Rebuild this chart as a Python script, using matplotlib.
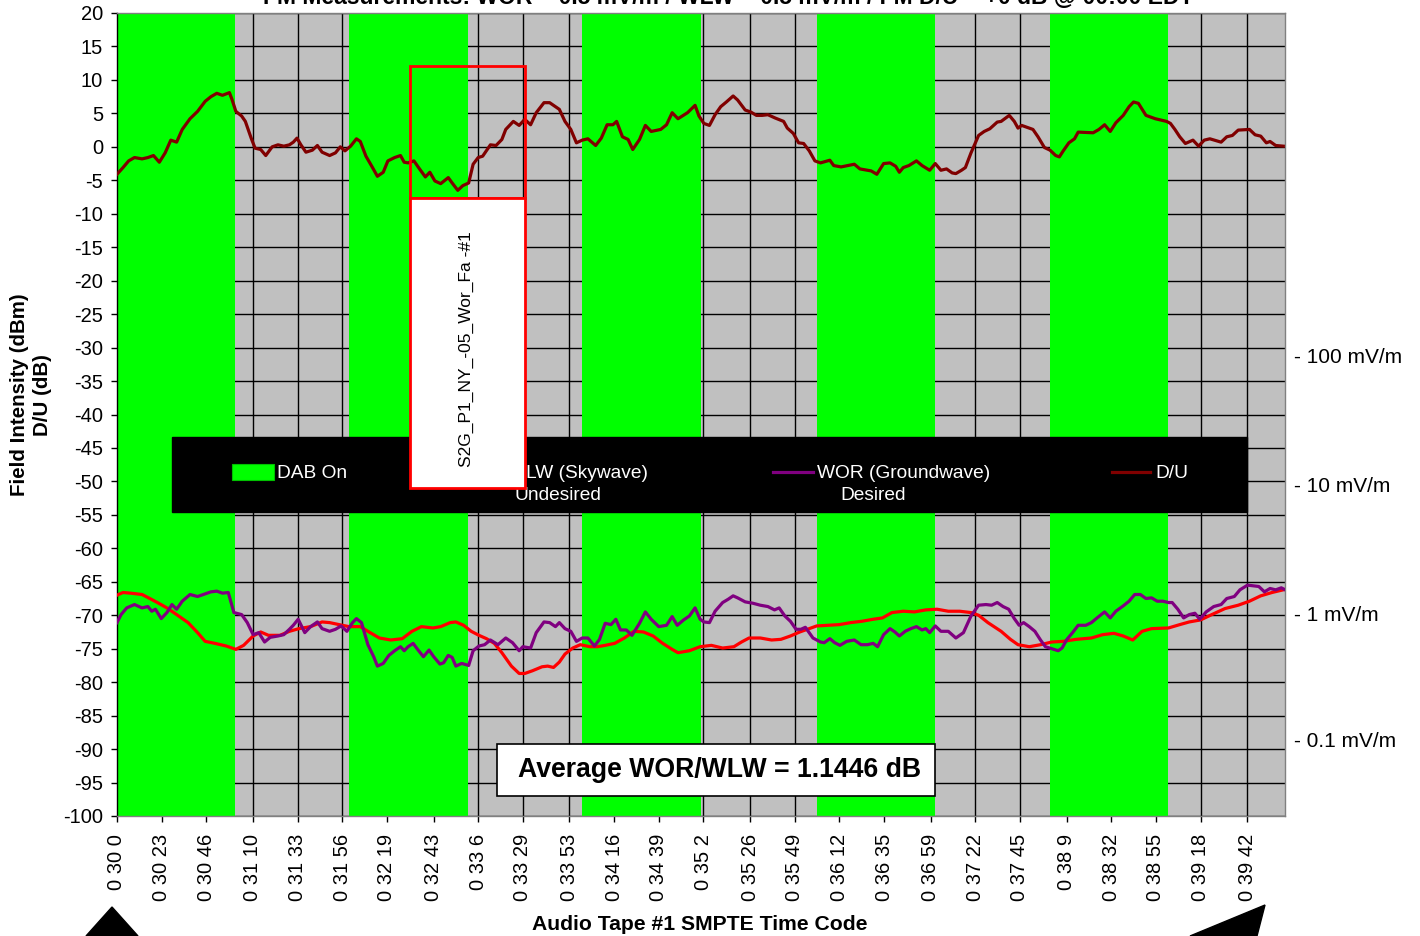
import matplotlib
matplotlib.use("Agg")
import matplotlib.pyplot as plt
from matplotlib.patches import Rectangle, Polygon
from matplotlib.lines import Line2D
import matplotlib.transforms as mtransforms

plt.rcParams['font.family'] = ['Liberation Sans', 'DejaVu Sans']
plt.rcParams['axes.unicode_minus'] = False

# ---------------- data ----------------
title = "FM Measurements: WOR = 0.5 mV/m / WLW = 0.5 mV/m / FM D/U = +0 dB @ 00:00 EDT"

tick_labels = ["0 30 0", "0 30 23", "0 30 46", "0 31 10", "0 31 33", "0 31 56", "0 32 19",
               "0 32 43", "0 33 6", "0 33 29", "0 33 53", "0 34 16", "0 34 39", "0 35 2",
               "0 35 26", "0 35 49", "0 36 12", "0 36 35", "0 36 59", "0 37 22", "0 37 45",
               "0 38 9", "0 38 32", "0 38 55", "0 39 18", "0 39 42"]
tick_seconds = [0, 23, 46, 70, 93, 116, 139, 163, 186, 209, 233, 256, 279, 302, 326,
                349, 372, 395, 419, 442, 465, 489, 512, 535, 558, 582]

dab_start = [0.0, 119.5, 239.5, 360.5, 480.5]
dab_end = [61.0, 181.0, 301.0, 421.0, 541.5]

du_time = [0, 3.1, 6.0, 9.0, 12.9, 15.9, 18.8, 21.8, 24.8, 27.7,
           30.7, 33.6, 37.6, 41.5, 45.4, 48.4, 51.4, 54.3, 57.9, 59.2,
           61.2, 64.2, 66.1, 69.1, 71.1, 74.0, 76.6, 79.9, 82.9, 85.9,
           88.8, 90.8, 92.7, 94.7, 97.3, 100.6, 103.2, 105.6, 109.5, 112.5,
           115.0, 117.4, 120.3, 123.3, 125.3, 128.2, 131.2, 134.1, 137.1, 139.5,
           143.0, 146.0, 147.9, 149.9, 152.9, 155.8, 158.8, 161.1, 163.7, 166.7,
           170.6, 172.6, 175.5, 178.1, 181.1, 183.4, 186.0, 188.3, 192.3, 195.2,
           198.2, 200.2, 204.1, 207.1, 210.0, 213.0, 215.9, 219.9, 222.8, 225.8,
           227.8, 230.7, 233.7, 236.6, 239.6, 242.5, 246.5, 249.4, 252.4, 255.4,
           257.3, 260.3, 263.2, 265.6, 269.1, 272.1, 275.1, 280.0, 283.0, 285.9,
           288.9, 293.8, 297.7, 299.7, 302.2, 305.1, 308.0, 310.9, 313.8, 317.3,
           319.6, 323.5, 326.4, 329.3, 332.2, 335.2, 339.0, 343.3, 345.2, 348.3,
           351.0, 353.6, 356.5, 359.4, 362.3, 367.1, 369.1, 372.9, 379.7, 382.6,
           388.4, 391.3, 394.8, 398.1, 401.0, 402.9, 404.9, 407.8, 411.7, 414.6,
           418.5, 421.4, 424.3, 427.2, 430.1, 432.0, 434.9, 436.9, 439.8, 443.7,
           446.6, 449.5, 453.3, 455.3, 459.5, 462.1, 464.0, 465.9, 471.7, 474.3,
           477.6, 480.5, 483.4, 485.3, 487.3, 490.2, 493.1, 495.0, 502.7, 505.7,
           508.6, 511.5, 514.4, 518.2, 521.2, 523.5, 526.0, 529.9, 534.7, 540.5,
           542.5, 544.8, 547.3, 550.2, 554.1, 557.0, 559.9, 562.8, 568.6, 571.5,
           574.4, 577.4, 583.2, 586.1, 589.0, 591.9, 593.8, 596.7, 600.6]
du_value = [-4.1, -3.1, -2.1, -1.6, -1.8, -1.6, -1.3, -2.3, -0.9, 1.0,
            0.7, 2.6, 4.2, 5.3, 6.8, 7.5, 8.0, 7.7, 8.1, 7.1,
            5.3, 4.6, 3.8, 1.3, -0.2, -0.4, -1.3, 0.0, 0.3, 0.1,
            0.3, 0.7, 1.3, 0.3, -0.8, -0.5, 0.2, -0.8, -1.3, -0.9,
            0.0, -0.6, 0.1, 1.2, 0.8, -1.4, -2.9, -4.4, -3.8, -2.1,
            -1.6, -1.3, -2.3, -2.4, -2.1, -3.3, -4.5, -3.8, -5.1, -5.5,
            -4.6, -5.4, -6.5, -5.8, -5.4, -2.6, -1.6, -1.4, 0.3, 0.2,
            1.1, 2.6, 3.8, 3.2, 4.1, 3.3, 5.1, 6.6, 6.6, 6.0,
            5.6, 3.8, 2.6, 0.6, 1.0, 1.2, 0.2, 1.3, 3.3, 3.3,
            3.8, 1.5, 1.1, -0.4, 1.1, 3.2, 2.3, 2.6, 3.3, 5.1,
            4.2, 5.1, 6.2, 4.6, 3.5, 3.2, 4.8, 6.0, 6.7, 7.6,
            7.0, 5.5, 5.2, 4.7, 4.7, 4.8, 4.3, 3.8, 2.8, 2.0,
            0.6, 0.5, -0.6, -2.1, -2.4, -2.0, -2.8, -3.0, -2.6, -3.3,
            -3.6, -4.1, -2.5, -2.4, -2.9, -3.8, -3.1, -2.8, -2.1, -2.8,
            -3.5, -2.5, -3.5, -3.3, -3.9, -4.0, -3.5, -3.1, -0.9, 1.7,
            2.3, 2.7, 3.7, 3.8, 4.7, 3.8, 2.8, 3.2, 2.6, 1.5,
            -0.1, -0.5, -1.3, -1.5, -0.6, 0.6, 1.2, 2.2, 2.1, 2.6,
            3.3, 2.3, 3.6, 4.7, 6.0, 6.7, 6.5, 4.7, 4.2, 3.8,
            3.5, 2.6, 1.5, 0.5, 1.0, 0.1, 1.0, 1.2, 0.7, 1.5,
            1.7, 2.5, 2.6, 1.8, 1.6, 0.6, 0.8, 0.2, 0.1]

wlw_time = [0, 3.1, 7.0, 12.9, 16.9, 20.8, 25.7, 30.7, 36.6, 41.5,
            45.4, 50.4, 56.3, 61.2, 65.2, 70.1, 74.0, 78.0, 83.9, 88.8,
            93.7, 99.7, 105.6, 109.5, 114.4, 119.4, 125.3, 129.2, 135.1, 141.0,
            146.9, 151.9, 156.8, 162.7, 166.7, 171.6, 174.5, 178.5, 182.4, 186.4,
            190.3, 194.3, 198.2, 203.1, 207.1, 210.0, 213.9, 218.9, 221.8, 224.8,
            227.8, 230.7, 234.7, 238.6, 243.5, 247.5, 251.4, 256.3, 261.3, 266.2,
            271.1, 276.1, 281.0, 285.9, 288.9, 294.8, 300.3, 306.1, 311.9, 317.7,
            321.6, 325.5, 331.3, 337.1, 341.9, 346.8, 351.6, 356.5, 360.3, 366.1,
            372.0, 377.8, 383.6, 389.4, 394.2, 399.1, 404.9, 410.7, 416.5, 422.3,
            428.1, 434.0, 439.8, 443.7, 448.5, 455.3, 460.1, 464.0, 469.8, 475.6,
            481.4, 487.3, 494.0, 501.8, 507.6, 513.4, 518.2, 523.1, 527.9, 532.8,
            541.5, 547.3, 552.2, 558.0, 563.8, 570.6, 577.4, 583.2, 589.0, 594.8,
            600.6]
wlw_value = [-67.0, -66.6, -66.7, -66.9, -67.5, -68.1, -68.9, -69.9, -71.1, -72.6,
             -73.9, -74.2, -74.6, -75.1, -74.5, -73.1, -72.5, -73.0, -73.0, -72.4,
             -72.0, -71.7, -71.0, -71.1, -71.4, -71.7, -71.7, -72.4, -73.4, -73.7,
             -73.5, -72.4, -71.7, -71.9, -71.7, -71.1, -71.0, -71.5, -72.4, -73.0,
             -73.5, -74.2, -75.6, -77.6, -78.7, -78.7, -78.3, -77.7, -77.6, -77.8,
             -77.0, -75.8, -74.9, -74.4, -74.7, -74.7, -74.5, -74.2, -73.4, -72.4,
             -72.5, -73.1, -74.2, -75.1, -75.6, -75.3, -74.7, -74.5, -74.9, -74.7,
             -74.0, -73.4, -73.4, -73.7, -73.6, -73.1, -72.5, -72.0, -71.6, -71.5,
             -71.4, -71.1, -70.9, -70.6, -70.4, -69.6, -69.4, -69.5, -69.2, -69.1,
             -69.4, -69.4, -69.6, -70.0, -71.1, -72.4, -73.6, -74.4, -74.7, -74.4,
             -74.0, -73.9, -73.6, -73.4, -72.9, -72.7, -73.1, -73.7, -72.4, -72.0,
             -71.9, -71.4, -71.0, -70.7, -69.9, -69.0, -68.5, -67.9, -67.1, -66.6,
             -66.2]

wor_time = [0, 2.1, 5.0, 9.0, 12.9, 15.9, 17.9, 19.8, 22.8, 25.7,
            28.3, 30.7, 33.6, 37.6, 41.5, 44.5, 48.4, 51.4, 54.3, 57.3,
            60.2, 64.2, 67.1, 70.1, 73.0, 76.0, 78.9, 82.9, 85.9, 88.8,
            90.8, 93.3, 96.7, 99.7, 103.2, 105.6, 109.5, 112.5, 115.4, 118.4,
            121.3, 123.3, 125.9, 127.2, 129.2, 132.2, 134.1, 137.1, 140.0, 143.0,
            146.0, 147.9, 149.9, 152.5, 154.8, 157.8, 160.7, 163.1, 166.3, 168.2,
            170.6, 172.6, 174.5, 177.5, 181.1, 183.4, 186.4, 189.3, 192.3, 196.2,
            200.2, 203.7, 207.1, 209.0, 213.0, 215.9, 219.9, 222.8, 225.8, 227.8,
            230.7, 233.7, 236.6, 239.6, 242.5, 245.9, 248.5, 251.4, 254.4, 256.9,
            259.3, 262.3, 265.2, 269.1, 272.1, 275.1, 279.0, 283.0, 285.9, 288.5,
            291.8, 294.8, 297.7, 300.3, 302.2, 305.1, 308.0, 311.9, 314.8, 317.3,
            319.6, 323.5, 327.4, 331.3, 335.2, 338.6, 341.0, 343.9, 346.8, 349.7,
            352.2, 354.5, 358.4, 362.3, 364.2, 367.1, 369.6, 372.3, 375.8, 379.7,
            383.2, 386.5, 389.4, 391.7, 394.8, 398.1, 400.6, 402.9, 405.9, 408.8,
            411.7, 414.6, 416.5, 418.5, 421.4, 424.3, 428.1, 432.0, 435.9, 439.8,
            443.7, 447.5, 450.4, 453.3, 456.3, 459.2, 462.1, 464.6, 466.9, 469.8,
            472.7, 475.6, 478.1, 481.4, 484.7, 486.7, 489.2, 492.1, 495.0, 498.9,
            501.8, 504.7, 508.6, 511.5, 514.4, 518.2, 521.2, 524.1, 527.0, 529.9,
            532.8, 535.7, 538.6, 541.5, 543.4, 546.3, 549.3, 552.2, 555.1, 557.6,
            560.9, 564.8, 568.6, 571.5, 575.4, 578.3, 582.2, 585.1, 588.0, 590.9,
            593.8, 596.7, 599.6, 601.6]
wor_value = [-71.1, -69.9, -68.9, -68.4, -68.9, -68.7, -69.4, -69.1, -70.5, -69.6,
             -68.4, -69.1, -67.9, -66.9, -67.2, -66.9, -66.5, -66.4, -66.7, -66.6,
             -69.6, -69.9, -71.1, -72.9, -72.6, -74.0, -73.3, -73.1, -72.9, -72.1,
             -71.5, -70.6, -72.6, -71.7, -71.0, -72.0, -72.4, -72.1, -71.6, -72.4,
             -71.1, -70.5, -71.1, -72.4, -74.4, -76.2, -77.6, -77.2, -76.0, -75.3,
             -74.7, -75.3, -74.7, -74.2, -75.1, -76.2, -75.2, -76.2, -77.3, -77.1,
             -76.0, -76.3, -77.6, -77.2, -77.5, -75.3, -74.6, -74.4, -73.7, -74.4,
             -73.4, -74.1, -75.3, -74.7, -74.9, -72.6, -71.0, -71.1, -71.7, -71.1,
             -72.0, -72.4, -73.9, -73.4, -73.4, -74.6, -73.6, -71.2, -71.4, -70.6,
             -72.2, -72.2, -73.0, -71.2, -69.5, -70.6, -71.7, -71.5, -70.2, -71.5,
             -70.7, -70.1, -68.9, -70.6, -71.0, -71.1, -69.4, -68.1, -67.6, -67.1,
             -67.4, -68.0, -68.2, -68.5, -68.7, -69.2, -68.9, -70.1, -70.9, -72.1,
             -72.1, -71.8, -73.4, -74.0, -74.1, -73.5, -74.1, -74.5, -73.9, -73.7,
             -74.4, -74.4, -74.2, -74.7, -72.9, -72.0, -72.5, -73.1, -72.4, -72.0,
             -71.7, -72.2, -72.0, -72.6, -71.6, -72.4, -72.4, -73.4, -72.6, -70.1,
             -68.5, -68.4, -68.5, -68.1, -68.7, -69.1, -70.5, -71.5, -71.1, -71.7,
             -72.4, -73.7, -74.7, -75.0, -75.3, -74.9, -73.6, -72.6, -71.5, -71.5,
             -71.1, -70.4, -69.5, -70.4, -69.4, -68.6, -67.9, -66.9, -66.9, -67.5,
             -67.4, -67.9, -67.9, -68.1, -68.1, -69.1, -70.4, -69.9, -69.7, -70.6,
             -69.5, -68.7, -68.4, -67.5, -67.2, -66.2, -65.5, -65.6, -65.7, -66.5,
             -66.0, -66.2, -65.9, -66.2]

right_labels = ["- 100 mV/m", "- 10 mV/m", "- 1 mV/m", "- 0.1 mV/m"]
right_label_dbm = [-31.5, -50.8, -70.1, -88.9]

series_names = ["DAB On", "WLW (Skywave)", "WOR (Groundwave)", "D/U"]
series_notes = ["Undesired", "Desired"]
annotation_text = "S2G_P1_NY_-05_Wor_Fa -#1"
average_text = "Average WOR/WLW = 1.1446 dB"

# ---------------- figure ----------------
W, H = 1420, 936
fig = plt.figure(figsize=(W / 100, H / 100), dpi=100)


def P(x, y):
    return (x / W, 1 - y / H)


ax = fig.add_axes([117 / W, 1 - 816 / H, (1285 - 117) / W, (816 - 13) / H])
ax.set_facecolor('#C0C0C0')
ax.set_xlim(0, 601.5)
ax.set_ylim(-100, 20)
ax.set_yticks(range(-100, 21, 5))
ax.set_xticks(tick_seconds)
ax.set_xticklabels(tick_labels, rotation=90, va='top', ha='center')
ax.set_axisbelow(True)
ax.grid(True, color='black', lw=1.0)
ax.tick_params(axis='both', direction='out', length=4, width=1, labelsize=14.5, colors='black')
ax.tick_params(axis='x', pad=9)
ax.tick_params(axis='y', pad=6)
for sp in ax.spines.values():
    sp.set_color('#808080')
    sp.set_linewidth(1)
ax.spines['left'].set_color('black')

for s, e in zip(dab_start, dab_end):
    ax.axvspan(s, e, color='#00FF00', lw=0, zorder=1)

ax.plot(wlw_time, wlw_value, color='#FF0000', lw=2.3, zorder=3)
ax.plot(wor_time, wor_value, color='#800080', lw=2.3, zorder=3)
ax.plot(du_time, du_value, color='#800000', lw=2.3, zorder=3)

# right-hand field strength labels
trans = mtransforms.blended_transform_factory(ax.transAxes, ax.transData)
for lab, v in zip(right_labels, right_label_dbm):
    ax.text(1.0075, v, lab, transform=trans, ha='left', va='center', fontsize=15, clip_on=False)

# titles
fig.text(*P(728, 4), title, ha='center', va='baseline', fontsize=16.5, fontweight='bold')
fig.text(*P(31, 395), "Field Intensity (dBm)\nD/U (dB)", rotation=90, ha='center', va='center',
         fontsize=14.8, fontweight='bold', linespacing=1.3, multialignment='center')
fig.text(*P(700, 925), "Audio Tape #1 SMPTE Time Code", ha='center', va='center',
         fontsize=15.2, fontweight='bold')

# legend (black box)
fig.add_artist(Rectangle(P(172, 512), (1247 - 172) / W, 75 / H, transform=fig.transFigure,
                         fc='black', ec='black', zorder=5))
fig.add_artist(Rectangle(P(232, 480), 42 / W, 16 / H, transform=fig.transFigure,
                         fc='#00FF00', ec='#00C000', lw=0.8, zorder=6))
fig.text(*P(277, 474), series_names[0], color='white', fontsize=13.8, ha='left', va='center', zorder=6)

for (x0, x1), col in zip([(468, 506), (773, 813), (1112, 1150)], ['#FF0000', '#800080', '#800000']):
    fig.add_artist(Line2D([x0 / W, x1 / W], [1 - 472 / H, 1 - 472 / H], transform=fig.transFigure,
                          color=col, lw=2.3, zorder=6))
fig.text(*P(508, 474), series_names[1], color='white', fontsize=13.8, ha='left', va='center', zorder=6)
fig.text(*P(515, 496), series_notes[0], color='white', fontsize=13.8, ha='left', va='center', zorder=6)
fig.text(*P(817, 474), series_names[2], color='white', fontsize=13.8, ha='left', va='center', zorder=6)
fig.text(*P(840, 496), series_notes[1], color='white', fontsize=13.8, ha='left', va='center', zorder=6)
fig.text(*P(1155, 474), series_names[3], color='white', fontsize=13.8, ha='left', va='center', zorder=6)

# annotation boxes
fig.add_artist(Rectangle(P(410, 198), 115 / W, 132 / H, transform=fig.transFigure,
                         fill=False, ec='#FF0000', lw=2.0, zorder=7))
fig.add_artist(Rectangle(P(410, 488), 115 / W, 290 / H, transform=fig.transFigure,
                         fc='white', ec='#FF0000', lw=2.0, zorder=7))
fig.text(*P(466, 349), annotation_text, rotation=90, ha='center', va='center', fontsize=12.5, zorder=8)

fig.add_artist(Rectangle(P(497, 796), 438 / W, 52 / H, transform=fig.transFigure,
                         fc='white', ec='black', lw=1.2, zorder=7))
fig.text(*P(720, 770), average_text, ha='center', va='center', fontsize=19.2, fontweight='bold', zorder=8)

# black arrow heads at the bottom corners
fig.add_artist(Polygon([P(86, 936), P(112, 907), P(138, 936)], closed=True, transform=fig.transFigure,
                       fc='black', ec='black', zorder=9))
fig.add_artist(Polygon([P(1190, 936), P(1265, 905), P(1257, 936)], closed=True, transform=fig.transFigure,
                       fc='black', ec='black', zorder=9))

fig.savefig('out.png', dpi=100)
